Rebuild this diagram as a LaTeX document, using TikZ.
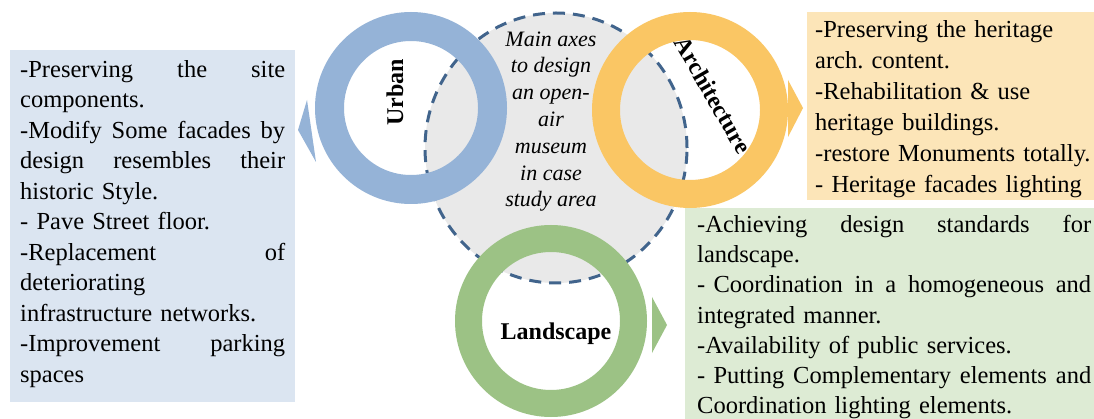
\documentclass[tikz,border=0pt]{standalone}
\usepackage{fontspec}
\setmainfont{Liberation Serif}
\frenchspacing
\definecolor{ringblue}{HTML}{95B3D7}
\definecolor{boxblue}{HTML}{DBE5F1}
\definecolor{ringorange}{HTML}{FAC664}
\definecolor{boxorange}{HTML}{FCE5B8}
\definecolor{ringgreen}{HTML}{9CC285}
\definecolor{boxgreen}{HTML}{DDEBD4}
\definecolor{axisgray}{HTML}{E9E9E9}
\definecolor{dashblue}{HTML}{41648C}
% justified line of a given width: gaps written as \g stretch equally
\newcommand{\jl}[2]{\leavevmode\hbox to #1{#2}}
\newcommand{\g}{\ \hfill}
\tikzset{
  panel/.style={anchor=north west, inner sep=0pt, outer sep=0pt},
  boxtext/.style={anchor=north west, inner sep=0pt, align=left},
  ringlabel/.style={inner sep=0pt, font=\bfseries\fontsize{24}{24}\selectfont},
}
\begin{document}
\begin{tikzpicture}[x=1pt,y=-1pt]
\useasboundingbox (0,0) rectangle (1094,419);
\fill[white] (0,0) rectangle (1094,419);

% boxes
\node[panel, fill=boxblue, minimum width=285pt, minimum height=352pt] (ubox) at (10,50) {};
\node[panel, fill=boxorange, minimum width=287pt, minimum height=188pt] (abox) at (807,12) {};
\node[panel, fill=boxgreen, minimum width=409pt, minimum height=211pt] (lbox) at (685,208) {};

% central dashed circle
\coordinate (mc) at (556,148);
\filldraw[fill=axisgray, draw=dashblue, line width=3pt, dash pattern=on 12pt off 8pt]
  (mc) ellipse [x radius=131pt, y radius=135pt];

% rings
\coordinate (uc) at (411,108);
\coordinate (ac) at (690,110);
\coordinate (lc) at (551,321);
\fill[ringblue, even odd rule] (uc) circle[radius=96pt] (uc) circle[radius=67pt];
\fill[ringblue] (307,100) -- (298,130) -- (316,162) -- cycle;
\fill[ringorange, even odd rule] (ac) circle[radius=98pt] (ac) circle[radius=70pt];
\fill[ringorange] (788,80) -- (803,108) -- (788,137) -- cycle;
\fill[ringgreen, even odd rule] (lc) circle[radius=96pt] (lc) circle[radius=69pt];
\fill[ringgreen] (652,297) -- (667,325) -- (652,353) -- cycle;

% ring labels
\node[ringlabel, rotate=90] (ul) at (395,92) {Urban};
\node[ringlabel, rotate=-60] (al) at (713,95) {Architecture};
\node[ringlabel, anchor=base] (ll) at (556,339) {Landscape};

% centre text
\node[anchor=north, inner sep=0pt, align=center, font=\itshape\fontsize{22}{26.8}\selectfont] (mt) at (551,29)
  {\rule{0pt}{17pt}Main axes\\to design\\an open-\\air\\museum\\in case\\study area};

% box texts
\node[boxtext, text width=266pt, font=\fontsize{24.5}{30.5}\selectfont] (utext) at (20,59) {%
\rule{0pt}{18pt}\jl{265pt}{-Preserving\g the\g site}\\
components.\\
\jl{265pt}{-Modify\g Some\g facades\g by}\\
\jl{265pt}{design\g resembles\g their}\\
historic Style.\\
- Pave Street floor.\\
\jl{265pt}{-Replacement\g of}\\
deteriorating\\
infrastructure networks.\\
\jl{265pt}{-Improvement\g parking}\\
spaces};

\node[boxtext, text width=276pt, font=\fontsize{24.5}{31}\selectfont] (atext) at (815,19) {%
\rule{0pt}{18pt}-Preserving the heritage\\
arch. content.\\
-Rehabilitation \& use\\
heritage buildings.\\
-restore Monuments totally.\\
- Heritage facades lighting};

\node[boxtext, text width=395pt, font=\fontsize{24.5}{30.3}\selectfont] (ltext) at (697,214) {%
\rule{0pt}{18pt}\jl{394pt}{-Achieving\g design\g standards\g for}\\
landscape.\\
\jl{394pt}{- Coordination\g in\g a\g homogeneous\g and}\\
integrated manner.\\
-Availability of public services.\\
\jl{394pt}{- Putting\g Complementary\g elements\g and}\\
Coordination lighting elements.};
\end{tikzpicture}
\end{document}
